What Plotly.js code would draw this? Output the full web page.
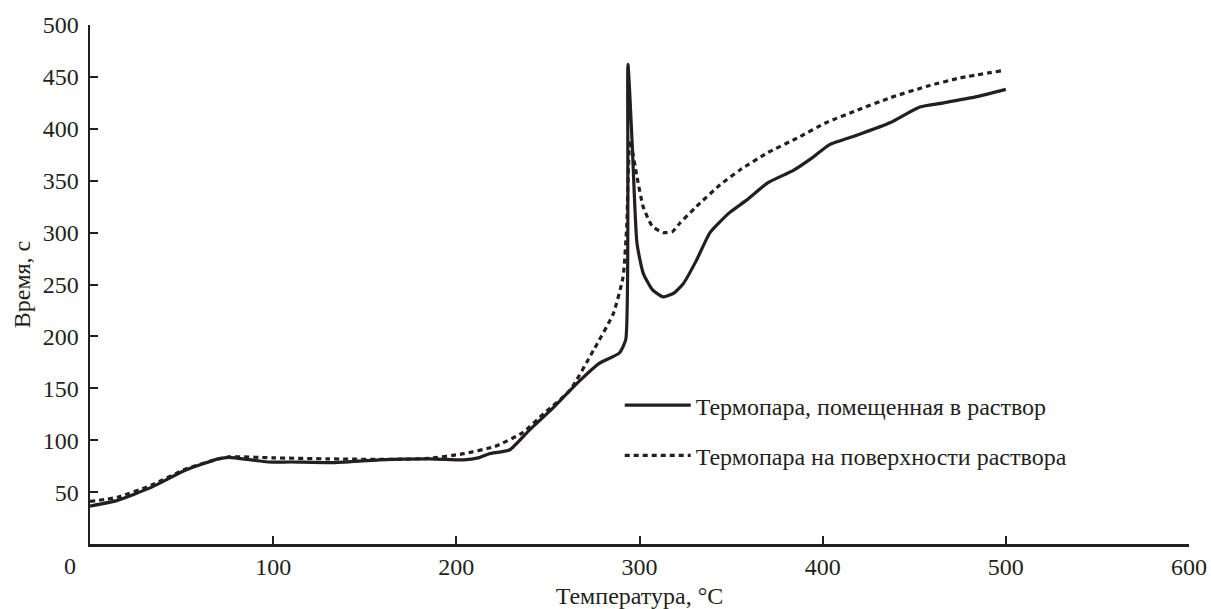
<!DOCTYPE html>
<html>
<head>
<meta charset="utf-8">
<script src="https://cdn.plot.ly/plotly-3.0.1.min.js"></script>
<style>html,body{margin:0;padding:0;background:#fff;}</style>
</head>
<body>
<div id="chart" style="width:1211px;height:609px;"></div>
<script>
// Термопара, помещенная в раствор (solid)
const solidX = [0, 15, 34, 52, 70, 76, 88, 97, 110, 132, 158, 186, 204, 212, 218, 229, 240, 251, 266, 278, 289, 292.5, 293.7, 296, 298.6, 302, 307, 313, 319, 324, 331, 338.5, 349, 359, 370, 384, 395, 404, 419, 437, 453, 466, 484, 500];
const solidY = [36.5, 42, 55, 71, 82, 83.5, 81, 79, 79, 78.4, 81, 82, 81, 83, 87, 90.6, 110, 128, 155, 174, 184, 197, 462, 386, 290, 261, 245, 238, 242, 251, 273, 300, 319, 332, 348, 360, 373, 385, 394, 406, 421, 425, 431, 438];
// Термопара на поверхности раствора (dotted)
const dotX = [0, 15, 34, 52, 70, 76, 100, 130, 160, 185, 204, 221, 236, 248, 262, 275, 285.7, 291, 293, 294.8, 298.6, 302, 307, 313, 318, 322, 331, 344, 355, 370, 386, 402, 419, 437, 457, 475, 498];
const dotY = [41, 45, 57, 72, 82, 84, 83, 82, 81.5, 82.5, 87, 94, 107, 126, 148, 187, 222, 257, 305, 389, 354, 325, 306, 300, 301, 309, 325, 346, 360.5, 377, 391, 406, 418, 430, 441, 449, 456];

const seriesNames = ["Термопара, помещенная в раствор", "Термопара на поверхности раствора"];
const xTicks = [0, 100, 200, 300, 400, 500, 600];
const xTickText = ["", "100", "200", "300", "400", "500", "600"];
const yTicks = [50, 100, 150, 200, 250, 300, 350, 400, 450, 500];

const ink = "#231f20";
const font = {family: "Liberation Serif, Times New Roman, serif", size: 24, color: ink};

const traces = [
  {x: solidX, y: solidY, name: seriesNames[0], mode: "lines", legendgroup: "a",
   line: {color: ink, width: 3.2, shape: "spline", smoothing: 0.5}},
  {x: dotX, y: dotY, name: seriesNames[1], mode: "lines", legendgroup: "b",
   line: {color: ink, width: 3.2, dash: "5px,4px", shape: "spline", smoothing: 0.5}}
];

const layout = {
  width: 1211, height: 609,
  margin: {l: 90, r: 22, t: 25, b: 65},
  paper_bgcolor: "#fff", plot_bgcolor: "#fff",
  font: font,
  showlegend: true,
  legend: {x: 0.482, y: 0.31, xanchor: "left", yanchor: "top", bgcolor: "rgba(0,0,0,0)",
           font: font, tracegroupgap: 16, itemwidth: 66},
  xaxis: {range: [0, 600], tickvals: xTicks, ticktext: xTickText, ticks: "inside", ticklen: 8,
          tickwidth: 2, tickcolor: ink, showline: true, linecolor: ink, linewidth: 2.5,
          showgrid: false, zeroline: false, tickfont: font,
          title: {text: "Температура, °C", font: font, standoff: 8}},
  yaxis: {range: [0, 500], tickvals: yTicks, ticks: "inside", ticklen: 8,
          tickwidth: 2, tickcolor: ink, showline: true, linecolor: ink, linewidth: 2.5,
          showgrid: false, zeroline: false, tickfont: font, ticklabelstandoff: 4,
          title: {text: "Время, с", font: font, standoff: 6}},
  annotations: [
    {text: "0", x: 0, xref: "x", y: 0, yref: "y", xshift: -20, yshift: -22,
     showarrow: false, font: font}
  ]
};

Plotly.newPlot("chart", traces, layout, {displayModeBar: false, staticPlot: true});
</script>
</body>
</html>
